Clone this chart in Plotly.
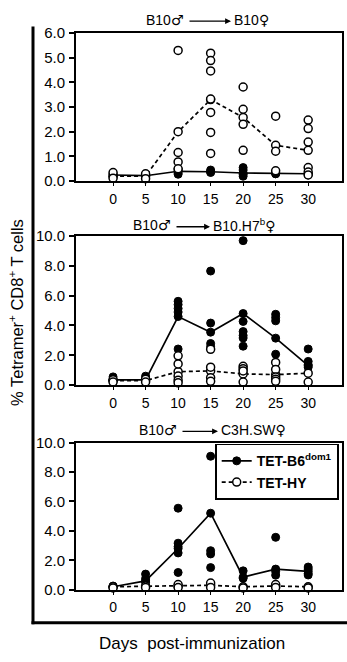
import plotly.graph_objects as go

days = [0, 5, 10, 15, 20, 25, 30]
x_ticks = [0, 5, 10, 15, 20, 25, 30]

MALE = '<span style="font-family:DejaVu Sans;font-weight:bold">♂</span>'
FEMALE = '<span style="font-family:DejaVu Sans;font-weight:bold">♀</span>'
title_left = ["B10" + MALE, "B10" + MALE, "B10" + MALE]
title_right = ["B10" + FEMALE, "B10.H7<sup>b</sup>" + FEMALE, "C3H.SW" + FEMALE]
y_max = [6, 10, 10]
y_ticks = [[0, 1, 2, 3, 4, 5, 6], [0, 2, 4, 6, 8, 10], [0, 2, 4, 6, 8, 10]]

# Panel 1: B10 -> B10
p1_b6_mean = [0.25, 0.22, 0.40, 0.38, 0.33, 0.30, 0.30]
p1_hy_mean = [0.20, 0.20, 2.00, 3.30, 2.58, 1.45, 1.25]
p1_b6_pts = [[0.30, 0.20], [0.28, 0.20], [0.50, 0.45, 0.33, 0.28], [0.45, 0.35],
             [0.55, 0.45, 0.28, 0.20], [0.35, 0.30], [0.30, 0.25]]
p1_hy_pts = [[0.35, 0.12], [0.30, 0.10], [5.29, 1.16, 0.78, 0.50], [5.18, 4.88, 4.46, 3.32, 2.78, 1.97, 1.12],
             [3.81, 2.91, 2.30, 1.25], [2.63, 1.21, 0.42], [2.47, 2.13, 1.58, 0.55, 0.37, 0.25]]

# Panel 2: B10 -> B10.H7b
p2_b6_mean = [0.35, 0.35, 4.60, 3.55, 4.80, 3.15, 1.30]
p2_hy_mean = [0.30, 0.30, 0.90, 0.95, 0.75, 0.70, 0.80]
p2_b6_pts = [[0.55, 0.30], [0.60, 0.40], [5.62, 5.40, 5.14, 4.90, 2.42], [7.65, 4.16, 2.79, 2.57],
             [9.69, 4.27, 3.59, 3.33, 3.16, 2.61], [4.75, 4.53, 4.31, 2.07], [2.42, 1.59, 1.37, 1.20]]
p2_hy_pts = [[0.35, 0.20], [0.40, 0.20], [1.96, 1.42, 0.61, 0.33, 0.15], [2.40, 1.20, 0.50, 0.25],
             [1.26, 1.10, 0.95, 0.20], [1.52, 1.05, 0.55, 0.40, 0.25], [0.20]]

# Panel 3: B10 -> C3H.SW
p3_b6_mean = [0.20, 0.60, 2.80, 5.20, 0.85, 1.40, 1.25]
p3_hy_mean = [0.20, 0.25, 0.25, 0.30, 0.20, 0.25, 0.20]
p3_b6_pts = [[0.25, 0.15], [1.06, 0.75, 0.50], [5.54, 3.16, 2.93, 2.50, 1.17], [9.07, 2.65, 2.43, 1.50],
             [1.28, 0.77], [3.56, 1.24, 0.99], [1.54, 1.40, 1.10, 1.00]]
p3_hy_pts = [[0.12], [0.15], [0.35, 0.15], [0.45, 0.15], [0.12], [0.35, 0.15], [0.12]]

panels = [
    (p1_b6_mean, p1_hy_mean, p1_b6_pts, p1_hy_pts),
    (p2_b6_mean, p2_hy_mean, p2_b6_pts, p2_hy_pts),
    (p3_b6_mean, p3_hy_mean, p3_b6_pts, p3_hy_pts),
]

W, H = 347, 662
x_left, x_right = 76, 342
y_boxes = [(24.5, 176.7), (233, 386), (445, 596)]
title_y = [11, 222, 432]
# arrow start / end pixel x for each panel title
arrow_x = [(188, 231), (175, 210), (181, 218)]

FONT = "Liberation Sans, Arial, DejaVu Sans, sans-serif"
fig = go.Figure()

filled = dict(symbol="circle", size=8, color="black", line=dict(color="black", width=1))
opened = dict(symbol="circle", size=8, color="white", line=dict(color="black", width=1.5))

for i, (b6m, hym, b6p, hyp) in enumerate(panels):
    ax = "" if i == 0 else str(i + 1)
    xr, yr = "x" + ax, "y" + ax
    last = (i == 2)
    bx = [d for d, pts in zip(days, b6p) for _ in pts]
    by = [v for pts in b6p for v in pts]
    hx = [d for d, pts in zip(days, hyp) for _ in pts]
    hy = [v for pts in hyp for v in pts]
    fig.add_trace(go.Scatter(x=bx, y=by, mode="markers", marker=filled, showlegend=False,
                             xaxis=xr, yaxis=yr, cliponaxis=False))
    fig.add_trace(go.Scatter(x=days, y=b6m, mode="lines+markers", marker=filled,
                             line=dict(color="black", width=1.7), name="TET-B6<sup>dom1</sup>",
                             showlegend=last, xaxis=xr, yaxis=yr, cliponaxis=False))
    fig.add_trace(go.Scatter(x=days, y=hym, mode="lines+markers", marker=opened,
                             line=dict(color="black", width=1.7, dash="4px,3px"), name="TET-HY",
                             showlegend=last, xaxis=xr, yaxis=yr, cliponaxis=False))
    fig.add_trace(go.Scatter(x=hx, y=hy, mode="markers", marker=opened, showlegend=False,
                             xaxis=xr, yaxis=yr, cliponaxis=False))

    top, bot = y_boxes[i]
    dom_y = [1 - bot / H, 1 - top / H]
    fig.layout["xaxis" + ax] = dict(
        domain=[x_left / W, x_right / W], range=[-5.7, 35.2], anchor=yr,
        tickvals=x_ticks, ticks="outside", ticklen=3, tickwidth=1.4, tickcolor="black",
        showline=True, mirror=True, linecolor="black",
        linewidth=1.7, showgrid=False, zeroline=False, ticklabelstandoff=1,
        tickfont=dict(family=FONT, size=14, color="black"))
    fig.layout["yaxis" + ax] = dict(
        domain=dom_y, range=[0, y_max[i]], anchor=xr, tickvals=y_ticks[i], tickformat=".1f",
        ticks="outside", ticklen=5, tickwidth=1.6, tickcolor="black", showline=True,
        mirror=True, linecolor="black", linewidth=1.7, showgrid=False, zeroline=False,
        ticklabelstandoff=1,
        tickfont=dict(family=FONT, size=15, color="black"))

    a0, a1 = arrow_x[i]
    ty = 1 - title_y[i] / H
    fig.add_annotation(text=title_left[i], xref="paper", yref="paper",
                       x=(a0 - 3) / W, y=ty, xanchor="right", yanchor="middle",
                       showarrow=False, font=dict(family=FONT, size=14, color="black"))
    fig.add_annotation(text=title_right[i], xref="paper", yref="paper",
                       x=(a1 + 0.5) / W, y=ty, xanchor="left", yanchor="middle",
                       showarrow=False, font=dict(family=FONT, size=14, color="black"))
    fig.add_annotation(text="", xref="paper", yref="paper",
                       x=a1 / W, y=1 - (title_y[i] + 1.5) / H, ax=-(a1 - a0), ay=0,
                       showarrow=True, arrowhead=2, arrowsize=0.9, arrowwidth=1.3,
                       arrowcolor="black", standoff=0, startstandoff=0)

# outer frame lines
fig.add_shape(type="line", xref="paper", yref="paper", x0=33 / W, x1=33 / W,
              y0=1 - 631.5 / H, y1=1 - 18 / H, line=dict(color="black", width=3))
fig.add_shape(type="line", xref="paper", yref="paper", x0=31.5 / W, x1=1,
              y0=1 - 630 / H, y1=1 - 630 / H, line=dict(color="black", width=3))

fig.add_annotation(text="% Tetramer<sup>+</sup> CD8<sup>+</sup> T cells", xref="paper", yref="paper",
                   x=16 / W, y=1 - 312 / H, textangle=-90, showarrow=False,
                   xanchor="center", yanchor="middle", font=dict(family=FONT, size=16.5, color="black"))
fig.add_annotation(text="Days  post-immunization", xref="paper", yref="paper",
                   x=192 / W, y=1 - 651 / H, showarrow=False,
                   xanchor="center", yanchor="middle", font=dict(family=FONT, size=17, color="black"))

fig.update_layout(
    width=W, height=H, margin=dict(l=0, r=0, t=0, b=0),
    paper_bgcolor="white", plot_bgcolor="white",
    legend=dict(x=215 / W, y=1 - 446 / H, xanchor="left", yanchor="top",
                bordercolor="black", borderwidth=1.7, bgcolor="white",
                font=dict(family=FONT, size=14, color="black", weight="bold"), itemwidth=30,
                tracegroupgap=0),
)

fig.write_html("out.html")
